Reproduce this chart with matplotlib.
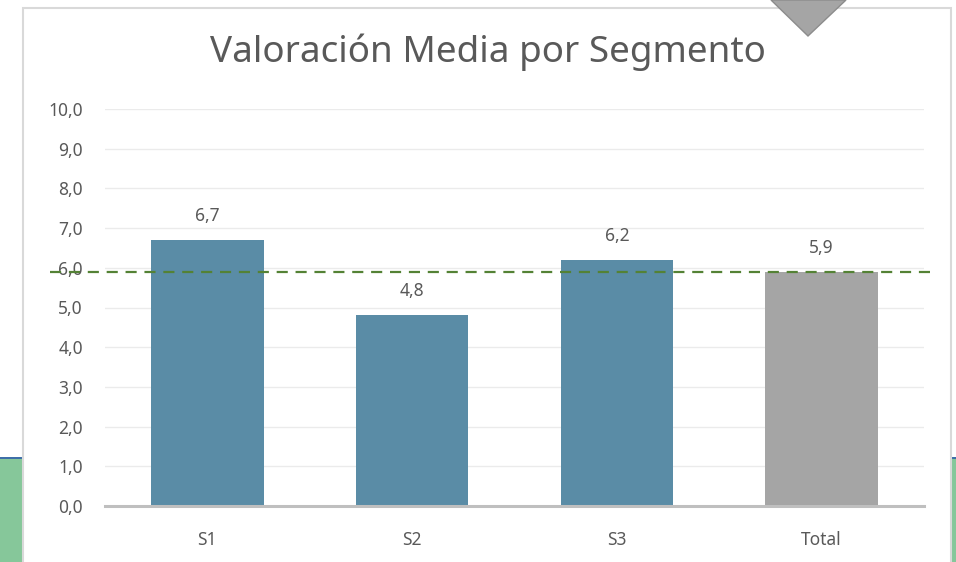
#!/usr/bin/env python3

import matplotlib
matplotlib.use('Agg')
from matplotlib import pyplot as plt
from matplotlib.patches import Rectangle, Polygon

### data
categories = ['S1', 'S2', 'S3', 'Total']
values = [6.7, 4.8, 6.2, 5.9]
bar_colors = ['#5A8CA6', '#5A8CA6', '#5A8CA6', '#A5A5A5']
mean_line = 5.9
yticks = [0, 1, 2, 3, 4, 5, 6, 7, 8, 9, 10]

W, H = 956, 562
TEXT = '#595959'

plt.rcParams['font.family'] = ['Noto Sans', 'DejaVu Sans']

fig = plt.figure(figsize=(W / 100, H / 100), dpi=100)
fig.patch.set_facecolor('white')

# background slide pieces behind the chart box
fig.patches.append(Rectangle((0, 0), 22 / W, 1 - 457 / H, transform=fig.transFigure,
                             facecolor='#86C79A', edgecolor='none', zorder=0))
fig.patches.append(Rectangle((0, 1 - 459 / H), 22 / W, 2 / H, transform=fig.transFigure,
                             facecolor='#3E6FA8', edgecolor='none', zorder=0))
fig.patches.append(Rectangle((952 / W, 0), 4 / W, 1 - 457 / H, transform=fig.transFigure,
                             facecolor='#86C79A', edgecolor='none', zorder=0))
fig.patches.append(Rectangle((952 / W, 1 - 459 / H), 4 / W, 2 / H, transform=fig.transFigure,
                             facecolor='#3E6FA8', edgecolor='none', zorder=0))
# chart box border
fig.patches.append(Rectangle((23 / W, -0.01), 928 / W, 1 - 8 / H + 0.01, transform=fig.transFigure,
                             facecolor='white', edgecolor='#D9D9D9', linewidth=1.5, zorder=1))
# grey triangle at top
fig.patches.append(Polygon([(771 / W, 1.0), (846 / W, 1.0), (808 / W, 1 - 36 / H)],
                           closed=True, transform=fig.transFigure,
                           facecolor='#A5A5A5', edgecolor='#8C8C8C', linewidth=1, zorder=3))

ax = fig.add_axes([105 / W, 1 - 506 / H, (924 - 105) / W, (506 - 109) / H], zorder=2)
ax.set_facecolor('none')

xpos = list(range(len(categories)))
bars = ax.bar(xpos, values, width=0.55, color=bar_colors, zorder=2)
for x, v in zip(xpos, values):
    ax.text(x, v + 0.38, f'{v:.1f}'.replace('.', ','), ha='center', va='bottom',
            fontsize=12.5, color=TEXT)

ax.set_xlim(-0.5, len(categories) - 0.5)
ax.set_ylim(0, 10)
ax.set_yticks(yticks)
ax.set_yticklabels([f'{t:.1f}'.replace('.', ',') for t in yticks])
ax.set_xticks(xpos)
ax.set_xticklabels(categories)
ax.tick_params(axis='both', length=0, labelsize=12.5, labelcolor=TEXT)
ax.tick_params(axis='y', pad=16)
ax.tick_params(axis='x', pad=18)
ax.grid(axis='y', color='#EBEBEB', linewidth=1, zorder=0)
for s in ['top', 'right', 'left']:
    ax.spines[s].set_visible(False)
ax.spines['bottom'].set_color('#BFBFBF')
ax.spines['bottom'].set_linewidth(2.2)
ax.spines['bottom'].set_zorder(3)

# mean line running past the plot area
ax.plot([-0.77, 3.545], [mean_line, mean_line], color='#548235', linestyle=(0, (5, 3.5)),
        linewidth=1.6, clip_on=False, zorder=4)

fig.text(488 / W, 1 - 52 / H, 'Valoración Media por Segmento', ha='center', va='center',
         fontsize=26.5, color=TEXT)

fig.savefig('out.png', dpi=100)
